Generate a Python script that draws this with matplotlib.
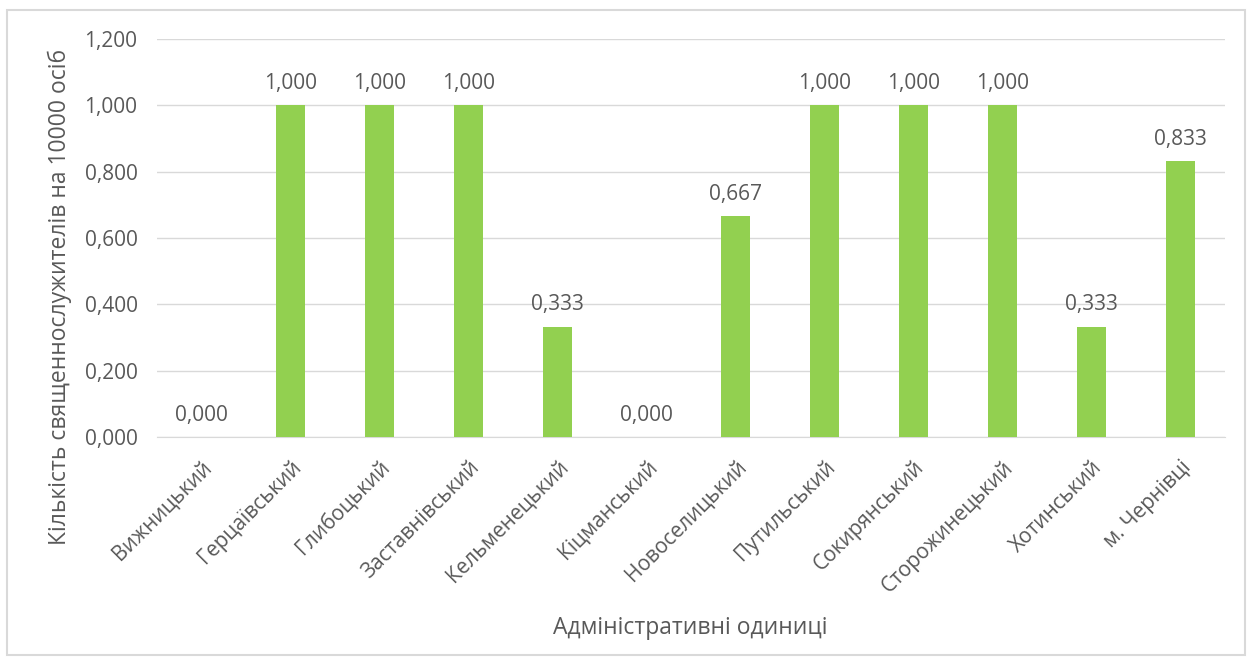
import matplotlib.pyplot as plt
from matplotlib.patches import Rectangle

# дані
districts = ['Вижницький', 'Герцаївський', 'Глибоцький', 'Заставнівський',
             'Кельменецький', 'Кіцманський', 'Новоселицький', 'Путильський',
             'Сокирянський', 'Сторожинецький', 'Хотинський', 'м. Чернівці']
values = [0.0, 1.0, 1.0, 1.0, 0.333, 0.0, 0.667, 1.0, 1.0, 1.0, 0.333, 0.833]
yticks = [0.0, 0.2, 0.4, 0.6, 0.8, 1.0, 1.2]

plt.rcParams['font.family'] = ['Open Sans', 'DejaVu Sans']
txt = '#595959'
grid = '#D9D9D9'

def fmt(v):
    return f'{v:,.3f}'.replace('.', ',')

fig = plt.figure(figsize=(12.53, 6.65), dpi=100)
ax = fig.add_axes([157 / 1253, 1 - 437 / 665, (1225 - 157) / 1253, (437 - 39) / 665])

x = range(len(districts))
ax.bar(x, values, width=0.32, color='#92D050', zorder=3)

for xi, v in zip(x, values):
    ax.annotate(fmt(v), (xi, v), xytext=(0, 8), textcoords='offset points',
                ha='center', va='bottom', fontsize=15, color=txt)

ax.set_xlim(-0.5, len(districts) - 0.5)
ax.set_ylim(0, 1.2)
ax.set_yticks(yticks)
ax.set_yticklabels([fmt(t) for t in yticks], fontsize=15, color=txt)
ax.set_xticks(list(x))
ax.set_xticklabels(districts, rotation=45, ha='right', rotation_mode='anchor',
                   fontsize=15, color=txt)
ax.tick_params(length=0)
ax.tick_params(axis='y', pad=14)
ax.tick_params(axis='x', pad=14)
ax.grid(axis='y', color=grid, linewidth=1, zorder=0)
for s in ['top', 'right', 'left']:
    ax.spines[s].set_visible(False)
ax.spines['bottom'].set_color(grid)

# підписи осей
fig.text(60 / 1253, 1 - 297 / 665, 'Кількість священнослужителів на 10000 осіб',
         rotation=90, ha='center', va='center', fontsize=16.5, color=txt)
fig.text(690 / 1253, 1 - 628 / 665, 'Адміністративні одиниці',
         ha='center', va='center', fontsize=16.5, color=txt)

fig.patches.append(Rectangle((7 / 1253, 10 / 665), (1245 - 7) / 1253, (655 - 10) / 665,
                             transform=fig.transFigure, fill=False,
                             edgecolor=grid, linewidth=1.5))

fig.savefig('out.png', dpi=100)
